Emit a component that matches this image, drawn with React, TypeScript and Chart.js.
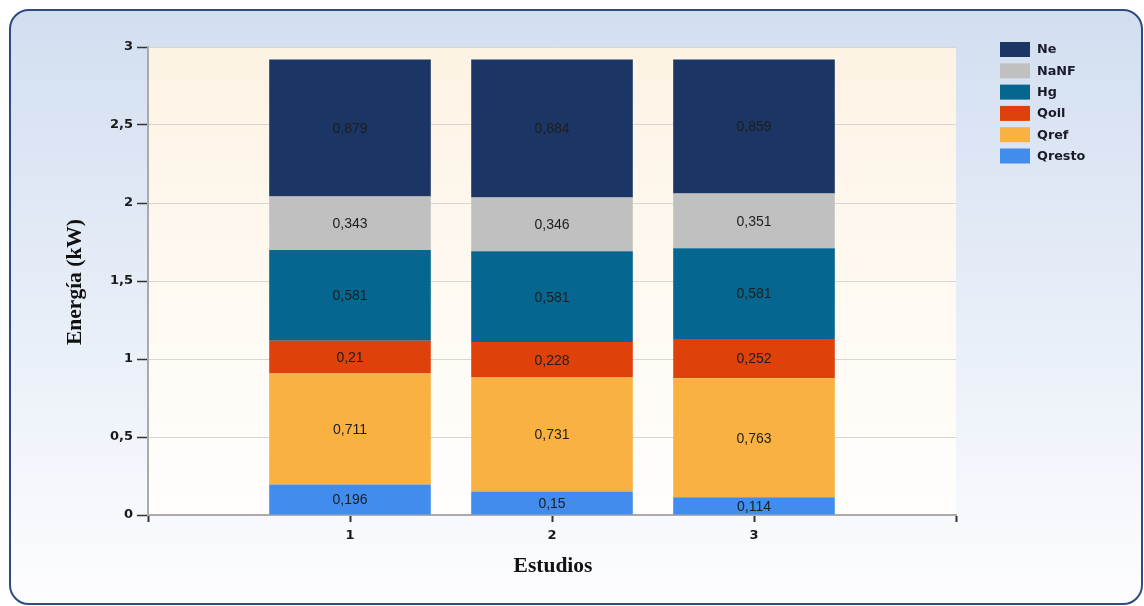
import React, { useEffect, useRef } from 'react';
import { Chart, registerables } from 'chart.js';

Chart.register(...registerables);

// ---- data ----
const studies = [1, 2, 3];
const xTickValues = [0, 1, 2, 3, 4];
const seriesNames = ['Qresto', 'Qref', 'Qoil', 'Hg', 'NaNF', 'Ne'];
const qresto = [0.196, 0.15, 0.114];
const qref = [0.711, 0.731, 0.763];
const qoil = [0.21, 0.228, 0.252];
const hg = [0.581, 0.581, 0.581];
const nanf = [0.343, 0.346, 0.351];
const ne = [0.879, 0.884, 0.859];
const seriesValues = [qresto, qref, qoil, hg, nanf, ne];
const seriesColors = ['#428ced', '#f9b141', '#df410b', '#05668f', '#c0c0c0', '#1b3664'];
const yMin = 0;
const yMax = 3;
const yStep = 0.5;
const yTitle = 'Energía (kW)';
const xTitle = 'Estudios';

const fmt = (v: number) => String(v).replace('.', ',');

const W = 1134;
const H = 596;

const plotBgPlugin = {
  id: 'plotBg',
  beforeDraw(chart: any) {
    const { ctx, chartArea: a } = chart;
    const g = ctx.createLinearGradient(0, a.top, 0, a.bottom);
    g.addColorStop(0, '#fdf3e4');
    g.addColorStop(1, '#fffefd');
    ctx.save();
    ctx.fillStyle = g;
    ctx.fillRect(a.left, a.top, a.right - a.left, a.bottom - a.top);
    ctx.restore();
  },
};

const labelsPlugin = {
  id: 'segLabels',
  afterDatasetsDraw(chart: any) {
    const { ctx } = chart;
    ctx.save();
    ctx.font = '14px "Liberation Sans", Arial, sans-serif';
    ctx.fillStyle = '#1e1e1e';
    ctx.textAlign = 'center';
    ctx.textBaseline = 'middle';
    chart.data.datasets.forEach((ds: any, di: number) => {
      const meta = chart.getDatasetMeta(di);
      meta.data.forEach((el: any, i: number) => {
        const cy = (el.y + el.base) / 2;
        ctx.fillText(fmt(ds.data[i].y), el.x, cy + 1);
      });
    });
    ctx.restore();
  },
};

const extrasPlugin = {
  id: 'extras',
  afterDraw(chart: any) {
    const { ctx, chartArea: a } = chart;
    ctx.save();
    // axis titles
    ctx.font = 'bold 21.5px "Liberation Serif", "Times New Roman", serif';
    ctx.fillStyle = '#111111';
    ctx.textAlign = 'center';
    ctx.textBaseline = 'middle';
    ctx.save();
    ctx.translate(66, (a.top + a.bottom) / 2 + 1);
    ctx.rotate(-Math.PI / 2);
    ctx.fillText(yTitle, 0, 0);
    ctx.restore();
    ctx.fillText(xTitle, (a.left + a.right) / 2 + 1, 557);

    // legend (reverse order: top series first)
    ctx.font = 'bold 12.8px "DejaVu Sans", sans-serif';
    ctx.textAlign = 'left';
    ctx.textBaseline = 'middle';
    const n = seriesNames.length;
    for (let k = 0; k < n; k++) {
      const idx = n - 1 - k;
      const y = 33 + k * 21.3;
      ctx.fillStyle = seriesColors[idx];
      ctx.fillRect(991, y, 30, 15);
      ctx.fillStyle = '#1a1a2a';
      ctx.fillText(seriesNames[idx], 1028, y + 8);
    }
    ctx.restore();
  },
};

export default function App() {
  const ref = useRef<HTMLCanvasElement>(null);

  useEffect(() => {
    if (!ref.current) return;
    const chart = new Chart(ref.current, {
      type: 'bar',
      data: {
        datasets: seriesNames.map((name, si) => ({
          label: name,
          data: studies.map((s, i) => ({ x: s, y: seriesValues[si][i] })),
          backgroundColor: seriesColors[si],
          borderWidth: 0,
          barPercentage: 0.8,
          categoryPercentage: 1,
        })),
      },
      options: {
        responsive: false,
        animation: false,
        events: [],
        layout: { padding: { top: 38, right: 187, left: 0, bottom: 0 } },
        plugins: {
          legend: { display: false },
          tooltip: { enabled: false },
          title: { display: false },
        },
        scales: {
          x: {
            type: 'linear',
            stacked: true,
            min: xTickValues[0],
            max: xTickValues[xTickValues.length - 1],
            offset: false,
            afterBuildTicks: (scale: any) => {
              scale.ticks = xTickValues.map((v) => ({ value: v }));
            },
            ticks: {
              stepSize: 1,
              padding: 6,
              color: '#1a1a1a',
              font: { family: '"DejaVu Sans", sans-serif', size: 13, weight: 'bold' },
              callback: (v: any) => (studies.includes(Number(v)) ? String(v) : ''),
              maxRotation: 0,
              autoSkip: false,
            },
            grid: {
              display: true,
              offset: false,
              drawOnChartArea: false,
              drawTicks: true,
              tickLength: 7,
              tickColor: '#333333',
              tickWidth: 2,
            },
            border: { display: true, color: '#aaaaaa', width: 2 },
            afterFit: (scale: any) => {
              scale.height = 90;
            },
          },
          y: {
            type: 'linear',
            stacked: true,
            min: yMin,
            max: yMax,
            ticks: {
              stepSize: yStep,
              padding: 4,
              color: '#1a1a1a',
              font: { family: '"DejaVu Sans", sans-serif', size: 13, weight: 'bold' },
              callback: (v: any) => fmt(Number(v)),
            },
            grid: {
              color: '#d9d6d0',
              lineWidth: 1,
              tickLength: 11,
              tickColor: '#333333',
              tickWidth: 1.5,
            },
            border: { display: true, color: '#aaaaaa', width: 2 },
            afterFit: (scale: any) => {
              scale.width = 139;
            },
          },
        },
      },
      plugins: [plotBgPlugin, labelsPlugin, extrasPlugin],
    } as any);
    return () => chart.destroy();
  }, []);

  return (
    <div style={{ position: 'absolute', left: 9, top: 9, width: W, height: H }}>
      <div
        style={{
          position: 'absolute',
          inset: 0,
          boxSizing: 'border-box',
          border: '2px solid #2c4c82',
          borderRadius: 20,
          background: 'linear-gradient(to bottom, #d2def0 0%, #e9eff8 55%, #fdfdff 100%)',
        }}
      />
      <canvas ref={ref} width={W} height={H} style={{ position: 'absolute', left: 0, top: 0 }} />
    </div>
  );
}
